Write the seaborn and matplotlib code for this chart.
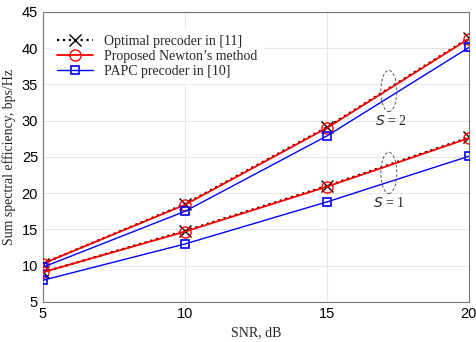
import matplotlib
matplotlib.use("Agg")
import matplotlib.pyplot as plt
from matplotlib.patches import Ellipse
import pandas as pd
import seaborn as sns

snr = [5, 10, 15, 20]
opt_s2 = [10.3, 18.5, 29.1, 41.4]
newton_s2 = [10.3, 18.4, 29.0, 41.3]
papc_s2 = [9.8, 17.5, 27.9, 40.1]
opt_s1 = [9.1, 14.8, 21.0, 27.7]
newton_s1 = [9.1, 14.7, 20.9, 27.6]
papc_s1 = [8.0, 13.0, 18.8, 25.1]

labels = ["Optimal precoder in [11]", "Proposed Newton\u2019s method", "PAPC precoder in [10]"]

rows = []
for s, series in [(2, [opt_s2, newton_s2, papc_s2]), (1, [opt_s1, newton_s1, papc_s1])]:
    for lab, vals in zip(labels, series):
        for x, y in zip(snr, vals):
            rows.append({"snr": x, "se": y, "method": lab, "S": s})
df = pd.DataFrame(rows)

sns.set_style("whitegrid")
plt.rcParams["font.family"] = ["Liberation Sans", "DejaVu Sans"]
serif = ["Liberation Serif", "DejaVu Serif"]

styles = {
    labels[0]: dict(color="black", ls=":", lw=1.6, marker="x", ms=9, mew=1.0, zorder=2),
    labels[1]: dict(color="red", ls="-", lw=1.3, marker="o", ms=8, mew=1.0, zorder=3),
    labels[2]: dict(color="blue", ls="-", lw=1.0, marker="s", ms=6, mew=1.2, zorder=3),
}

fig = plt.figure(figsize=(4.77, 3.42), dpi=100)
ax = fig.add_axes([0.09, 0.117, 0.893, 0.848])

for s in [2, 1]:
    for lab in labels:
        part = df[(df["S"] == s) & (df["method"] == lab)]
        st = styles[lab]
        sns.lineplot(data=part, x="snr", y="se", ax=ax, color=st["color"],
                     linestyle=st["ls"], linewidth=st["lw"], marker=st["marker"],
                     markersize=st["ms"], markeredgewidth=st["mew"],
                     markerfacecolor="none", markeredgecolor=st["color"],
                     zorder=st["zorder"], label=lab if s == 2 else None)

ax.set_xlim(5, 20)
ax.set_ylim(5, 45)
ax.set_xticks([5, 10, 15, 20])
ax.set_yticks(range(5, 50, 5))
ax.tick_params(labelsize=10.5, length=3, direction="in", colors="#555555",
               labelcolor="black")
ax.grid(True, color="#e6e6e6", linewidth=0.8)
for sp in ax.spines.values():
    sp.set_color("#777777")
    sp.set_linewidth(0.8)

ax.set_xlabel("SNR, dB", family=serif, fontsize=10)
ax.set_ylabel("Sum spectral efficiency, bps/Hz", family=serif, fontsize=10)

ax.add_patch(Ellipse((17.18, 34.1), 0.56, 5.7, fill=False, ls=(0, (3, 2)),
                     ec="#555555", lw=0.7, zorder=5))
ax.add_patch(Ellipse((17.18, 22.8), 0.56, 5.7, fill=False, ls=(0, (3, 2)),
                     ec="#555555", lw=0.7, zorder=5))
ax.text(17.25, 30.0, "$S$ = 2", family=serif, fontsize=10, ha="center", va="center")
ax.text(17.2, 18.7, "$S$ = 1", family=serif, fontsize=10, ha="center", va="center")

leg = ax.legend(loc="upper left", bbox_to_anchor=(0.0, 0.97), frameon=True,
                prop={"family": serif, "size": 10}, handlelength=2.6,
                borderaxespad=0.6, labelspacing=0.15)
leg.get_frame().set_edgecolor("white")
leg.get_frame().set_alpha(1.0)

fig.savefig("out.png", dpi=100)
